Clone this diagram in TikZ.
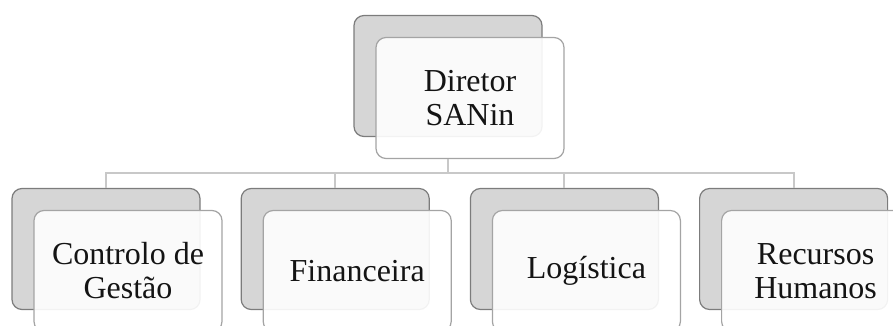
\documentclass[tikz,border=0pt]{standalone}
\usepackage{fontspec}
\setmainfont{Liberation Serif}
\newfontfamily\boxfont{Liberation Serif}
\usetikzlibrary{positioning}
\definecolor{backgray}{HTML}{D6D6D6}
\definecolor{edgegray}{HTML}{7C7C7C}
\definecolor{framegray}{HTML}{A4A4A4}
\definecolor{linegray}{HTML}{C8C8C8}
\definecolor{ink}{HTML}{141414}
\tikzset{
  back/.style={draw=edgegray, fill=backgray, rounded corners=10pt, line width=1.2pt,
    minimum width=188pt, minimum height=121pt},
  front/.style={draw=framegray, fill=white, fill opacity=0.9, text opacity=1,
    rounded corners=10pt, line width=1.2pt, minimum width=188pt, minimum height=121pt,
    align=center, text=ink, font=\boxfont\fontsize{32}{34}\selectfont},
  link/.style={draw=linegray, line width=2pt},
}

\begin{document}
\begin{tikzpicture}[node distance=40pt]
    \useasboundingbox (0,0) rectangle (893pt,325pt);
    % direction
    \node[back] (dir) at (448pt,249pt) {};
    \node[front] (dirF) at ([shift={(22pt,-22pt)}]dir.center) {Diretor\\SANin};
    % departments
    \node[back] (cg) at (106pt,76pt) {};
    \node[back, right=of cg] (fin) {};
    \node[back, right=of fin] (log) {};
    \node[back, right=of log] (rh) {};
    \node[front] (cgF) at ([shift={(22pt,-22pt)}]cg.center) {Controlo de\\Gestão};
    \node[front] (finF) at ([shift={(22pt,-22pt)}]fin.center) {Financeira};
    \node[front] (logF) at ([shift={(22pt,-22pt)}]log.center) {Logística};
    \node[front] (rhF) at ([shift={(22pt,-22pt)}]rh.center) {Recursos\\Humanos};
    % tree lines
    \coordinate (bus) at (0,152pt);
    \draw[link] (dir.south |- dirF.south) -- (dir.south |- bus) -| (cg.north);
    \draw[link] (dir.south |- bus) -| (fin.north);
    \draw[link] (dir.south |- bus) -| (log.north);
    \draw[link] (dir.south |- bus) -| (rh.north);
  \end{tikzpicture}
\end{document}
